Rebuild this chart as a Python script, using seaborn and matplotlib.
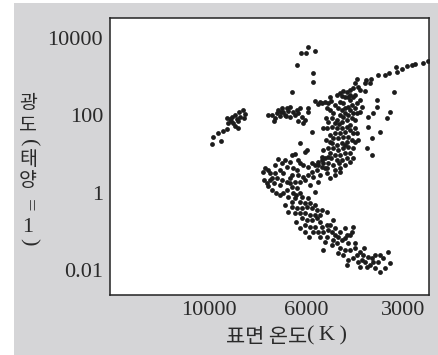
import numpy as np
import pandas as pd
import matplotlib
matplotlib.use("Agg")
import matplotlib.pyplot as plt
from matplotlib.patches import Rectangle
from matplotlib.ticker import FixedLocator, FixedFormatter, NullLocator
import seaborn as sns

# ---------------- data: surface temperature (K) and log10 luminosity (sun = 1) ----------------
blue_temp = [8360, 8540, 8280, 8720, 8490, 9100, 8950, 8630, 8590, 8810, 9050, 8720, 8590, 9100,
             9290, 9540, 9800, 9390, 9850, 8860, 8320, 8900]
blue_loglum = [2.14, 2.09, 2.04, 2.01, 1.96, 1.94, 1.91, 1.91, 1.86, 1.81, 1.81, 1.73, 1.68, 1.65,
               1.60, 1.55, 1.45, 1.34, 1.26, 1.96, 1.94, 1.86]

hb_temp = [7330, 7180, 7070, 6990, 6950, 6880, 6810, 6780, 6710, 6640, 6600, 6530, 6530, 6430,
           6290, 6260, 6260, 6190, 6120, 6090, 6020, 5900, 5900, 5620, 5500, 5420, 5230, 5120,
           6670, 6850, 6360, 7100]
hb_loglum = [2.01, 2.01, 1.94, 2.06, 2.14, 1.99, 2.19, 2.09, 2.01, 2.19, 2.12, 2.22, 1.96, 2.09,
             2.14, 2.06, 1.86, 2.19, 1.96, 1.81, 1.88, 2.19, 2.09, 2.37, 2.30, 2.35, 2.35, 2.32,
             1.99, 2.09, 2.01, 1.86]

sg_temp = [5900, 6160, 5990, 5620, 6290, 5700, 5700, 6460]
sg_loglum = [3.77, 3.61, 3.61, 3.66, 3.30, 3.10, 2.86, 2.61]

agb_temp = [2600, 2510, 2750, 2810, 2910, 3020, 3150, 3130, 3310, 3410, 3580, 3770, 3900, 3930,
            3790, 4160, 4220, 4130, 4280, 4070, 3930, 4370, 4470, 4600, 4700, 4800, 4370, 4220,
            4540, 3200, 3610]
agb_loglum = [3.35, 3.41, 3.33, 3.30, 3.28, 3.20, 3.25, 3.12, 3.10, 3.05, 3.05, 2.94, 2.92, 2.84,
              2.84, 2.94, 2.84, 2.74, 2.71, 2.66, 2.63, 2.66, 2.61, 2.63, 2.58, 2.53, 2.53, 2.53,
              2.48, 2.61, 2.40]

gb_temp = [5340, 5050, 4630, 4440, 4370, 4280, 4700, 4600, 4870, 4770, 4630, 4540, 4440, 4310,
           4220, 4160, 4070, 4010, 4280, 4440, 4600, 4700, 4940, 4980, 4800, 4630, 4470, 4310,
           4220, 5160, 4980, 4800, 4630, 4470, 4540, 4700, 4870, 5050, 4940, 4770, 4600, 4440,
           4280, 4160, 4310, 4470, 4630, 4800, 4980, 5120, 4940, 4770, 4600, 4440, 4280, 4220,
           5050, 4870, 4700, 4540, 4370, 5230, 5340, 4800, 4630, 4470, 5310, 5120, 4940, 4540,
           5230, 4370, 4540, 4160, 4730, 4370, 4220, 5010, 4730, 5310, 4870, 5120,
           5160, 5010, 5050, 4070, 4370, 5190, 4130, 4540, 5310, 4280, 5500, 4870, 4700, 4370,
           5050, 5190, 4870, 4700, 5050]
gb_loglum = [2.32, 2.48, 2.50, 2.48, 2.40, 2.48, 2.35, 2.32, 2.27, 2.19, 2.14, 2.19, 2.22, 2.27,
             2.19, 2.32, 2.40, 2.22, 2.06, 2.01, 1.96, 2.01, 2.06, 1.94, 1.88, 1.83, 1.88, 1.94,
             1.88, 1.68, 1.70, 1.68, 1.68, 1.70, 1.57, 1.55, 1.55, 1.50, 1.42, 1.42, 1.45, 1.45,
             1.55, 1.55, 1.37, 1.32, 1.29, 1.24, 1.29, 1.16, 1.16, 1.11, 1.16, 1.19, 1.16, 1.32,
             1.03, 0.98, 0.98, 1.03, 1.03, 0.90, 0.93, 0.85, 0.85, 0.90, 0.77, 0.77, 0.72, 0.72,
             0.65, 2.14, 2.06, 2.06, 1.78, 1.75, 1.68, 0.90, 0.77, 1.68, 1.81, 1.83,
             2.19, 2.37, 2.14, 2.09, 1.63, 1.37, 1.37, 1.24, 1.11, 0.90, 0.72, 0.59, 0.65, 0.80,
             1.32, 1.94, 0.46, 0.54, 0.39]

scatter_temp = [3610, 3290, 3710, 3360, 3850, 3850, 3530, 3740, 3870, 3740,
                6190, 5950, 6460, 5740, 5310]
scatter_loglum = [2.22, 2.09, 2.06, 1.94, 1.96, 1.70, 1.57, 1.42, 1.16, 0.98,
                  1.29, 1.11, 0.98, 1.57, -1.47]

ms_upper_temp = [6020, 6950, 6710, 6360, 6260, 6190, 7450, 7330, 7250, 7070, 6880, 6780, 6640,
                 6430, 6290, 6090, 5900, 5740, 5620, 5500, 5340, 5120, 5160, 5340, 5540, 5740,
                 5900, 6090, 6260, 6460, 6530, 6640, 6810, 6990, 7180, 7370, 6880, 6530, 6360,
                 6190, 6020, 5700, 5420, 5160, 6460, 6290, 6640, 6780, 6430, 6190, 5620, 6600,
                 6360, 6120, 5900, 6190, 6020, 6460, 7530, 7490, 7330, 7180, 7030, 6880, 7250, 7100,
                 7070, 6810, 6530, 5820, 5500, 6330]
ms_upper_loglum = [1.06, 0.88, 0.85, 1.01, 0.85, 0.77, 0.65, 0.59, 0.52, 0.52, 0.59, 0.52, 0.67,
                   0.65, 0.59, 0.72, 0.67, 0.77, 0.72, 0.80, 0.85, 0.93, 0.65, 0.67, 0.59, 0.54,
                   0.46, 0.41, 0.46, 0.46, 0.39, 0.28, 0.34, 0.39, 0.39, 0.26, 0.21, 0.26, 0.28,
                   0.28, 0.34, 0.41, 0.46, 0.52, 0.15, 0.13, 0.08, 0.00, 0.00, 0.00, 0.03, -0.10,
                   -0.13, -0.10, -0.13, -0.23, -0.26, -0.23, 0.54, 0.34, 0.18, 0.08, 0.00, -0.05,
                   0.34, 0.26,
                   0.72, 0.77, 0.80, 0.21, 0.28, -0.05]

ms_mid_temp = [6460, 6290, 6120, 5950, 5740, 5540, 6360, 6190, 6020, 5820, 5340, 5160, 6120, 5950,
               5740, 5540, 5420, 6020, 5820, 5620, 5340, 5160, 4940, 5700, 5500, 5310, 5120, 5420,
               5160, 4470, 6710, 6600, 6330, 6190, 6020, 5860,
               5820, 5620, 5420, 5620, 5050, 4870, 4700, 4540, 5230]
ms_mid_loglum = [-0.36, -0.39, -0.39, -0.36, -0.39, -0.44, -0.52, -0.52, -0.52, -0.57, -0.44, -0.49,
                 -0.65, -0.70, -0.70, -0.65, -0.75, -0.83, -0.88, -0.88, -0.88, -0.83, -0.70, -1.01,
                 -1.01, -1.01, -0.95, -1.14, -1.14, -1.08, -0.31, -0.49, -0.75, -0.90, -1.01, -1.14,
                 -0.26, -0.31, -0.57, -0.57, -0.83, -0.90, -1.01, -0.90, -1.26]

ms_lower_temp = [4980, 4870, 4770, 4940, 4800, 4980, 4630, 4540, 4370, 4280, 4310, 4440, 4220, 4700,
                 4540, 4770, 4370, 4220, 4070, 3990, 4160, 4280, 4440, 4470, 4130, 3930, 3850, 3740,
                 3710, 3660, 3530, 3340, 3290, 3410, 3530, 3790, 3870, 4070,
                 4600, 4010, 3580, 3460, 3660, 3960]
ms_lower_loglum = [-1.01, -1.08, -1.14, -1.21, -1.29, -1.34, -1.21, -1.16, -1.08, -0.88, -1.01, -1.29,
                   -1.29, -1.42, -1.47, -1.55, -1.47, -1.42, -1.52, -1.60, -1.60, -1.68, -1.73, -1.86,
                   -1.78, -1.78, -1.65, -1.68, -1.78, -1.60, -1.60, -1.52, -1.81, -1.94, -2.04, -1.86,
                   -1.91, -1.91,
                   -1.60, -1.73, -1.78, -1.68, -1.94, -1.42]

x_ticks = [10000, 6000, 3000]
x_tick_labels = ["10000", "6000", "3000"]
y_ticks = [0.01, 1, 100, 10000]
y_tick_labels = ["0.01", "1", "100", "10000"]

temps = (blue_temp + hb_temp + sg_temp + agb_temp + gb_temp + scatter_temp
         + ms_upper_temp + ms_mid_temp + ms_lower_temp)
loglums = (blue_loglum + hb_loglum + sg_loglum + agb_loglum + gb_loglum + scatter_loglum
           + ms_upper_loglum + ms_mid_loglum + ms_lower_loglum)
df = pd.DataFrame({"temp": temps, "lum": 10 ** np.array(loglums)})

# ---------------- style ----------------
sns.set_theme(style="white")
plt.rcParams["font.family"] = ["Liberation Serif", "Noto Sans CJK KR", "DejaVu Sans"]
TXT = "#2a2a2a"
KR = ["Noto Sans CJK KR", "DejaVu Sans"]
SERIF = ["Liberation Serif", "DejaVu Serif"]

# temperature axis: equal spacing between the 10000 / 6000 / 3000 K marks (log-piecewise)
L10, L6, L3 = np.log10(10000), np.log10(6000), np.log10(3000)


def fwd(t):
    L = np.log10(np.clip(np.asarray(t, float), 1.0, None))
    u = np.where(L >= L6, (L10 - L) / (L10 - L6), 1 + (L6 - L) / (L6 - L3))
    return -u


def inv(g):
    u = -np.asarray(g, float)
    L = np.where(u <= 1, L10 - u * (L10 - L6), L6 - (u - 1) * (L6 - L3))
    return 10 ** L


W, H = 438, 355
fig = plt.figure(figsize=(W / 100, H / 100), dpi=100, facecolor="white")
fig.add_artist(Rectangle((14 / W, 0), 1 - 14 / W, (H - 3) / H, transform=fig.transFigure,
                         facecolor="#d5d5d7", edgecolor="none", zorder=-10))

ax = fig.add_axes([110 / W, 1 - 295 / H, (429 - 110) / W, (295 - 18) / H])
ax.set_facecolor("white")

sns.scatterplot(data=df, x="temp", y="lum", ax=ax, s=12, color="#1c1c1c",
                linewidth=0, legend=False)

ax.set_xscale("function", functions=(fwd, inv))
ax.set_yscale("log")
ax.set_xlim(16840, 2491)
ax.set_ylim(0.00233, 32800)

ax.xaxis.set_major_locator(FixedLocator(x_ticks))
ax.xaxis.set_major_formatter(FixedFormatter(x_tick_labels))
ax.xaxis.set_minor_locator(NullLocator())
ax.yaxis.set_major_locator(FixedLocator(y_ticks))
ax.yaxis.set_major_formatter(FixedFormatter(y_tick_labels))
ax.yaxis.set_minor_locator(NullLocator())

ax.tick_params(axis="both", direction="in", length=8.6, width=1.0, color="#333333",
               labelcolor=TXT, labelsize=16)
ax.tick_params(axis="x", pad=4)
ax.tick_params(axis="y", pad=5)
for lab in ax.get_xticklabels() + ax.get_yticklabels():
    lab.set_family(SERIF)
for sp in ax.spines.values():
    sp.set_color("#222222")
    sp.set_linewidth(1.1)
ax.set_xlabel("")
ax.set_ylabel("")

# x label
fig.text(307 / W, 1 - 337 / H, "표면 온도", family=KR, fontsize=15, color=TXT,
         ha="right", va="center")
fig.text(307 / W, 1 - 336 / H, "(\u2009K\u2009)", family=SERIF, fontsize=16, color=TXT,
         ha="left", va="center")

# vertical y label (upright Korean stacked, punctuation rotated as in vertical typesetting)
ylab = [("광\n도", 114, KR, 0), ("(", 143, SERIF, -90),
        ("태\n양", 170, KR, 0), ("=", 205, SERIF, -90),
        ("1", 227, SERIF, 0), (")", 242, SERIF, -90)]
for ch, ypx, fam, rot in ylab:
    fig.text(28 / W, 1 - ypx / H, ch, family=fam, fontsize=14 if fam is KR else 16,
             color=TXT, ha="center", va="center", rotation=rot, linespacing=1.05,
             multialignment="center")

fig.savefig("out.png", dpi=100, facecolor="white")
